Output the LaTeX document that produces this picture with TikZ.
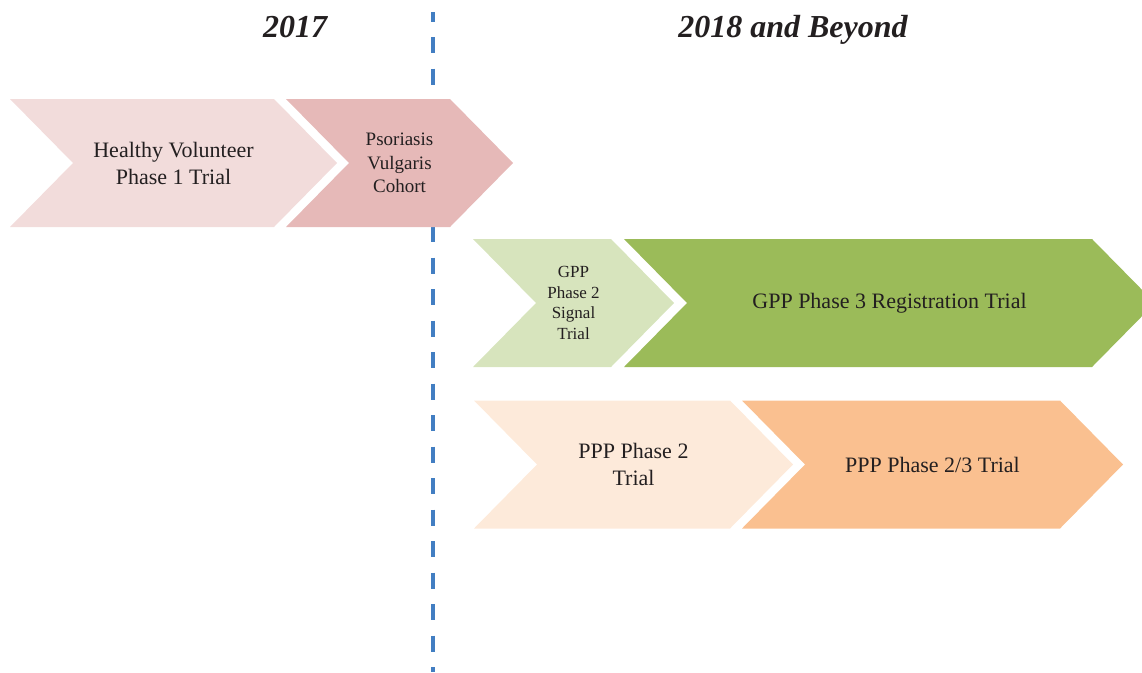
\documentclass[tikz,border=0pt]{standalone}
\usepackage{fontspec}
\setmainfont{Liberation Serif}
\definecolor{hvpink}{HTML}{F2DCDB}
\definecolor{pvpink}{HTML}{E6B9B8}
\definecolor{gpplight}{HTML}{D7E4BD}
\definecolor{gppgreen}{HTML}{9BBB59}
\definecolor{ppplight}{HTML}{FDEADA}
\definecolor{ppporange}{HTML}{FAC090}
\definecolor{lineblue}{RGB}{66,126,194}
\definecolor{inkgray}{RGB}{35,31,32}

\begin{document}
\begin{tikzpicture}
  [x=1pt,y=-1pt,
   divider/.style={draw=lineblue,line width=3.5pt,dash pattern=on 16pt off 15.5pt,dash phase=6.5pt},
   title/.style={anchor=base,text=inkgray,font=\fontsize{32}{38}\selectfont\bfseries\itshape},
   lbl/.style={align=center,text=inkgray,font=\fontsize{22}{27}\selectfont},
   midlbl/.style={lbl,font=\fontsize{19}{23.5}\selectfont},
   smalllbl/.style={lbl,font=\fontsize{17}{20.7}\selectfont}
  ]
  \useasboundingbox (0,0) rectangle (1142,672);

  % timeline divider
  \coordinate (top) at (433,12);
  \coordinate (bot) at (433,672);
  \draw[divider] (top) -- (bot);

  % chevrons: left x / right x / centre y / colour
  \foreach \xl/\xr/\yc/\col in {10/274/163/hvpink,286/450/163/pvpink,
                                473/611/303/gpplight,624/1092/303/gppgreen,
                                474/730/464.5/ppplight,742/1060/464.5/ppporange}
     \fill[\col] (\xl,\yc-64) -- (\xr,\yc-64) -- (\xr+63,\yc) -- (\xr,\yc+64)
                 -- (\xl,\yc+64) -- (\xl+63,\yc) -- cycle;

  % years
  \node[title] (y2017) at (295,37) {2017};
  \node[title] (y2018) at (793,37) {2018 and Beyond};

  % trial labels
  \node[lbl]      (hv)    at (173.5,163) {Healthy Volunteer\\Phase 1 Trial};
  \node[midlbl]   (pv)    at (399.5,163) {Psoriasis\\Vulgaris\\Cohort};
  \node[smalllbl] (gpp2)  at (573.5,303) {GPP\\Phase 2\\Signal\\Trial};
  \node[lbl]      (gpp3)  at (889.5,303) {GPP Phase 3 Registration Trial};
  \node[lbl]      (ppp2)  at (633.5,464.5) {PPP Phase 2\\Trial};
  \node[lbl]      (ppp23) at (932.5,464.5) {PPP Phase 2/3 Trial};
\end{tikzpicture}
\end{document}
